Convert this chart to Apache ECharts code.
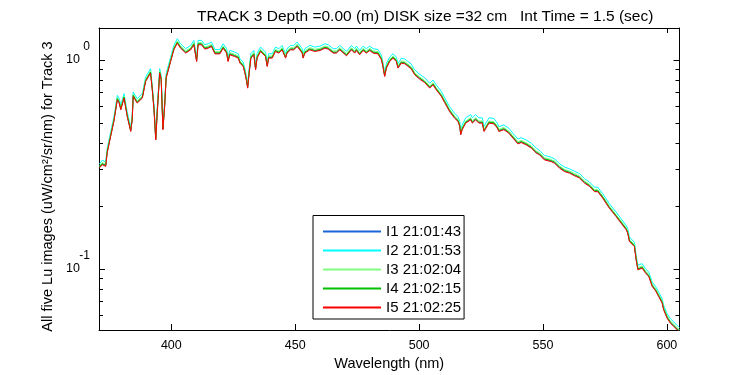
<!DOCTYPE html>
<html>
<head>
<meta charset="utf-8">
<script src="https://cdn.jsdelivr.net/npm/echarts@6/dist/echarts.min.js"></script>
<style>
  html, body { margin: 0; padding: 0; background: #fff; }
  #chart { width: 750px; height: 375px; }
</style>
</head>
<body>
<div id="chart"></div>
<script>
// wavelengths (nm) shared by the five Lu images
const wavelengths = [
  371.0,372.1,373.5,374.1,375.5,376.8,378.2,378.9,379.6,380.9,
  382.2,383.6,384.2,384.6,386.2,388.3,389.6,391.6,392.3,393.0,
  393.7,394.3,395.3,395.9,396.6,397.3,397.9,399.7,401.0,402.4,
  403.7,405.8,407.8,409.1,410.2,410.8,412.2,413.5,414.9,416.2,
  417.6,419.6,420.9,422.3,422.9,423.6,425.6,427.0,427.7,429.0,
  429.7,430.4,430.8,431.4,432.1,433.3,434.0,434.6,436.0,438.0,
  438.7,439.3,440.7,442.0,443.4,444.7,446.1,446.7,448.1,449.4,
  450.8,452.8,453.2,453.9,455.9,457.9,460.0,462.0,463.3,465.3,
  466.6,468.0,470.7,472.7,474.0,474.7,476.0,477.4,478.7,480.1,
  481.4,483.4,484.8,485.4,486.1,486.8,488.1,489.5,490.8,491.5,
  492.8,494.2,495.5,496.9,498.2,498.9,500.2,502.2,502.9,504.3,
  505.6,506.9,509.0,510.3,512.3,514.3,515.7,516.4,516.8,517.4,
  518.8,520.8,521.5,522.8,524.1,525.5,526.2,526.8,528.2,530.2,
  531.6,532.2,534.2,536.2,537.9,539.9,541.2,543.2,545.3,547.3,
  548.6,550.6,553.3,554.7,556.7,557.4,558.7,560.7,562.7,564.7,
  566.8,568.8,570.8,572.1,574.1,576.8,579.5,581.5,583.6,584.2,
  584.9,586.9,587.6,588.3,589.0,590.0,591.4,592.7,594.1,595.4,
  596.7,598.1,598.7,600.1,601.4,602.8,604.2,605.1
];

const luI1 = [
  0.306,0.317,0.311,0.361,0.433,0.510,0.648,0.627,0.580,0.660,
  0.539,0.457,0.519,0.672,0.625,0.660,0.792,0.869,0.723,0.580,
  0.416,0.561,0.869,0.807,0.466,0.602,0.822,0.987,1.123,1.209,
  1.144,1.083,1.123,1.187,0.987,1.187,1.187,1.132,1.144,1.165,
  1.074,1.074,1.144,1.083,0.987,1.063,1.043,1.025,0.970,0.935,
  0.869,0.792,0.736,0.869,1.025,1.063,0.901,1.025,1.103,1.043,
  0.935,1.025,1.025,1.103,1.083,1.123,1.025,1.083,1.123,1.123,
  1.165,1.083,1.025,1.083,1.123,1.103,1.115,1.144,1.132,1.083,
  1.083,1.123,1.051,1.123,1.083,1.115,1.063,1.115,1.083,1.115,
  1.083,1.074,1.006,0.935,0.837,0.918,0.987,1.025,0.987,0.918,
  0.970,0.963,0.937,0.908,0.853,0.869,0.814,0.784,0.792,0.736,
  0.764,0.723,0.672,0.629,0.569,0.529,0.510,0.483,0.441,0.466,
  0.501,0.519,0.501,0.519,0.501,0.501,0.457,0.466,0.501,0.497,
  0.474,0.457,0.466,0.449,0.425,0.398,0.404,0.394,0.380,0.360,
  0.353,0.334,0.328,0.322,0.305,0.309,0.294,0.289,0.281,0.274,
  0.259,0.249,0.235,0.235,0.219,0.196,0.179,0.1665,0.1546,0.1491,
  0.1359,0.1286,0.1111,0.0995,0.0977,0.1014,0.0960,0.0925,0.0828,0.0792,
  0.0741,0.0689,0.0641,0.0584,0.0553,0.0533,0.0513,0.0503
];

const luI2 = [
  0.318,0.331,0.325,0.377,0.452,0.532,0.676,0.655,0.606,0.689,
  0.563,0.477,0.542,0.701,0.652,0.690,0.826,0.907,0.755,0.606,
  0.433,0.586,0.907,0.842,0.486,0.628,0.858,1.030,1.172,1.262,
  1.194,1.131,1.172,1.239,1.030,1.239,1.239,1.181,1.194,1.216,
  1.121,1.121,1.194,1.131,1.030,1.110,1.089,1.070,1.012,0.975,
  0.907,0.826,0.769,0.907,1.070,1.110,0.941,1.070,1.151,1.089,
  0.975,1.070,1.070,1.151,1.131,1.172,1.070,1.131,1.172,1.172,
  1.216,1.131,1.070,1.131,1.172,1.151,1.163,1.194,1.181,1.131,
  1.131,1.172,1.097,1.172,1.131,1.163,1.110,1.163,1.131,1.163,
  1.131,1.121,1.050,0.975,0.874,0.959,1.030,1.070,1.030,0.959,
  1.017,1.010,0.982,0.953,0.895,0.912,0.853,0.822,0.830,0.772,
  0.801,0.759,0.705,0.659,0.597,0.555,0.535,0.506,0.462,0.488,
  0.528,0.547,0.528,0.547,0.528,0.528,0.481,0.491,0.528,0.524,
  0.497,0.479,0.488,0.471,0.445,0.418,0.424,0.414,0.399,0.378,
  0.369,0.349,0.342,0.336,0.318,0.322,0.307,0.301,0.293,0.286,
  0.270,0.260,0.246,0.246,0.229,0.205,0.187,0.174,0.161,0.156,
  0.142,0.134,0.116,0.104,0.102,0.106,0.100,0.0965,0.0864,0.0826,
  0.0774,0.0719,0.0669,0.0610,0.0578,0.0557,0.0536,0.0525
];

const luI3 = [
  0.312,0.323,0.317,0.368,0.441,0.520,0.660,0.639,0.591,0.672,
  0.549,0.465,0.529,0.685,0.637,0.672,0.807,0.886,0.737,0.591,
  0.424,0.572,0.886,0.822,0.475,0.613,0.837,1.006,1.144,1.232,
  1.165,1.104,1.144,1.210,1.006,1.210,1.210,1.153,1.165,1.187,
  1.095,1.095,1.165,1.104,1.006,1.083,1.063,1.044,0.988,0.952,
  0.886,0.807,0.750,0.886,1.044,1.083,0.918,1.044,1.123,1.063,
  0.952,1.044,1.044,1.123,1.104,1.144,1.044,1.104,1.144,1.144,
  1.187,1.104,1.044,1.104,1.144,1.123,1.136,1.165,1.153,1.104,
  1.104,1.144,1.071,1.144,1.104,1.136,1.083,1.136,1.104,1.136,
  1.104,1.095,1.025,0.952,0.853,0.936,1.006,1.044,1.006,0.936,
  0.988,0.981,0.954,0.926,0.869,0.886,0.829,0.798,0.807,0.750,
  0.778,0.737,0.685,0.641,0.580,0.539,0.520,0.492,0.449,0.475,
  0.510,0.529,0.510,0.529,0.510,0.510,0.465,0.475,0.510,0.506,
  0.483,0.465,0.475,0.457,0.433,0.406,0.412,0.402,0.387,0.367,
  0.360,0.340,0.334,0.328,0.311,0.315,0.299,0.294,0.286,0.279,
  0.263,0.254,0.240,0.240,0.223,0.200,0.182,0.1696,0.1575,0.1519,
  0.1385,0.1310,0.1132,0.1014,0.0995,0.1033,0.0978,0.0942,0.0844,0.0807,
  0.0755,0.0702,0.0653,0.0596,0.0564,0.0543,0.0523,0.0513
];

const luI4 = [
  0.308,0.319,0.313,0.363,0.435,0.513,0.652,0.630,0.584,0.664,
  0.542,0.459,0.522,0.676,0.628,0.664,0.796,0.874,0.728,0.584,
  0.419,0.565,0.874,0.812,0.469,0.605,0.827,0.993,1.129,1.216,
  1.151,1.090,1.129,1.194,0.993,1.194,1.194,1.139,1.151,1.172,
  1.081,1.081,1.151,1.090,0.993,1.070,1.049,1.031,0.976,0.940,
  0.874,0.796,0.741,0.874,1.031,1.070,0.907,1.031,1.109,1.049,
  0.940,1.031,1.031,1.109,1.090,1.129,1.031,1.090,1.129,1.129,
  1.172,1.090,1.031,1.090,1.129,1.109,1.121,1.151,1.139,1.090,
  1.090,1.129,1.058,1.129,1.090,1.121,1.070,1.121,1.090,1.121,
  1.090,1.081,1.012,0.940,0.842,0.924,0.993,1.031,0.993,0.924,
  0.976,0.968,0.942,0.914,0.858,0.874,0.819,0.788,0.796,0.741,
  0.768,0.728,0.676,0.633,0.573,0.532,0.513,0.486,0.443,0.469,
  0.504,0.522,0.504,0.522,0.504,0.504,0.459,0.469,0.504,0.500,
  0.477,0.459,0.469,0.451,0.427,0.401,0.407,0.397,0.383,0.362,
  0.355,0.336,0.330,0.324,0.307,0.311,0.296,0.290,0.282,0.275,
  0.260,0.251,0.237,0.237,0.221,0.197,0.180,0.1675,0.1555,0.1500,
  0.1367,0.1293,0.1117,0.1001,0.0983,0.1020,0.0965,0.0930,0.0833,0.0796,
  0.0746,0.0693,0.0645,0.0588,0.0557,0.0536,0.0516,0.0506
];

const luI5 = [
  0.304,0.315,0.309,0.359,0.430,0.507,0.644,0.623,0.577,0.656,
  0.536,0.454,0.516,0.668,0.621,0.656,0.787,0.864,0.719,0.577,
  0.414,0.558,0.864,0.802,0.463,0.598,0.817,0.981,1.116,1.202,
  1.137,1.077,1.116,1.180,0.981,1.180,1.180,1.125,1.137,1.158,
  1.068,1.068,1.137,1.077,0.981,1.057,1.037,1.019,0.964,0.929,
  0.864,0.787,0.732,0.864,1.019,1.057,0.896,1.019,1.096,1.037,
  0.929,1.019,1.019,1.096,1.077,1.116,1.019,1.077,1.116,1.116,
  1.158,1.077,1.019,1.077,1.116,1.096,1.108,1.137,1.125,1.077,
  1.077,1.116,1.045,1.116,1.077,1.108,1.057,1.108,1.077,1.108,
  1.077,1.068,1.000,0.929,0.832,0.913,0.981,1.019,0.981,0.913,
  0.964,0.957,0.931,0.903,0.848,0.864,0.809,0.779,0.787,0.732,
  0.759,0.719,0.668,0.625,0.566,0.526,0.507,0.480,0.438,0.463,
  0.498,0.516,0.498,0.516,0.498,0.498,0.454,0.463,0.498,0.494,
  0.471,0.454,0.463,0.446,0.422,0.396,0.402,0.392,0.378,0.358,
  0.351,0.332,0.326,0.320,0.303,0.307,0.292,0.287,0.279,0.272,
  0.257,0.248,0.234,0.234,0.218,0.195,0.178,0.1655,0.1537,0.1482,
  0.1351,0.1278,0.1104,0.0989,0.0971,0.1008,0.0954,0.0919,0.0823,0.0787,
  0.0737,0.0685,0.0637,0.0581,0.0550,0.0530,0.0510,0.0500
];

const seriesNames = ["I1 21:01:43", "I2 21:01:53", "I3 21:02:04", "I4 21:02:15", "I5 21:02:25"];
const seriesData = [luI1, luI2, luI3, luI4, luI5];
const colors = ["#1a66d9", "#00ffff", "#80ff80", "#00c000", "#ff0000"];

// log-axis minor tick positions (2..9 of each decade)
const minorTicks = [0.06, 0.07, 0.08, 0.09, 0.2, 0.3, 0.4, 0.5, 0.6, 0.7, 0.8, 0.9];

const X_MIN = 370.8, X_MAX = 605.1;
const Y_MIN = 0.051, Y_MAX = 1.42;
const FONT = "'Liberation Sans', Arial, sans-serif";

var myChart = echarts.init(document.getElementById("chart"));

function expLabel(value) {
  var l = Math.log10(value);
  var e = Math.round(l);
  if (Math.abs(l - e) > 1e-6) return "";
  return "{e|" + e + "}\n{b|10}\n{e| }";
}

var option = {
  animation: false,
  backgroundColor: "#fff",
  color: colors,
  title: {
    text: "TRACK 3 Depth =0.00 (m) DISK size =32 cm   Int Time = 1.5 (sec)",
    left: 192,
    top: 4,
    textStyle: { fontFamily: FONT, fontSize: 15.5, fontWeight: "normal", color: "#000" }
  },
  grid: {
    left: 99,
    top: 28,
    width: 580.5,
    height: 302,
    containLabel: false,
    outerBoundsMode: "none"
  },
  legend: {
    // legend swatches are drawn as flat lines in each series colour
    data: seriesNames.map(function (n, k) {
      return {
        name: n,
        icon: "rect",
        itemStyle: { color: colors[k], borderWidth: 0, opacity: 1 }
      };
    }),
    orient: "vertical",
    left: 313,
    top: 215.5,
    padding: [8.5, 3, 4, 10],
    itemGap: 4,
    itemWidth: 58,
    itemHeight: 2,
    backgroundColor: "#fff",
    borderColor: "#000",
    borderWidth: 1,
    borderRadius: 0,
    textStyle: { fontFamily: FONT, fontSize: 15, color: "#000", lineHeight: 15 }
  },
  xAxis: [
    {
      type: "value",
      min: X_MIN,
      max: X_MAX,
      name: "Wavelength (nm)",
      nameLocation: "middle",
      nameGap: 25,
      nameTextStyle: { fontFamily: FONT, fontSize: 14.5, color: "#000", verticalAlign: "top" },
      axisLine: { show: true, lineStyle: { color: "#000", width: 1 } },
      axisTick: { show: true, inside: true, length: 6, lineStyle: { color: "#000" } },
      axisLabel: {
        fontFamily: FONT, fontSize: 12.5, color: "#000", margin: 9,
        showMinLabel: false, showMaxLabel: false
      },
      splitLine: { show: false }
    },
    {
      type: "value",
      position: "top",
      min: X_MIN,
      max: X_MAX,
      axisLine: { show: true, lineStyle: { color: "#000", width: 1 } },
      axisTick: { show: true, inside: true, length: 5, lineStyle: { color: "#000" } },
      axisLabel: { show: false },
      splitLine: { show: false }
    }
  ],
  yAxis: [
    {
      type: "log",
      logBase: 10,
      min: Y_MIN,
      max: Y_MAX,
      name: "All five Lu images (uW/cm\u00b2/sr/nm) for Track 3",
      nameLocation: "middle",
      nameGap: 38.5,
      nameTextStyle: { fontFamily: FONT, fontSize: 14.5, color: "#000", padding: [0, 15, 0, 0] },
      axisLine: { show: true, lineStyle: { color: "#000", width: 1 } },
      axisTick: { show: true, inside: true, length: 6, lineStyle: { color: "#000" } },
      axisLabel: {
        fontFamily: FONT,
        color: "#000",
        margin: 9,
        showMinLabel: false,
        showMaxLabel: false,
        formatter: expLabel,
        rich: {
          e: { fontFamily: FONT, fontSize: 12, lineHeight: 12, color: "#000" },
          b: { fontFamily: FONT, fontSize: 12.5, lineHeight: 14, color: "#000", padding: [0, 10, 0, 0] }
        }
      },
      splitLine: { show: false }
    },
    {
      type: "log",
      logBase: 10,
      position: "right",
      min: Y_MIN,
      max: Y_MAX,
      axisLine: { show: true, lineStyle: { color: "#000", width: 1 } },
      axisTick: { show: true, inside: true, length: 6, lineStyle: { color: "#000" } },
      axisLabel: { show: false },
      splitLine: { show: false }
    }
  ],
  series: seriesData.map(function (arr, k) {
    return {
      name: seriesNames[k],
      type: "line",
      xAxisIndex: 0,
      yAxisIndex: 0,
      symbol: "none",
      smooth: false,
      clip: true,
      itemStyle: { color: colors[k] },
      lineStyle: { color: colors[k], width: 1 },
      data: wavelengths.map(function (w, i) { return [w, arr[i]]; }),
      z: 2 + k
    };
  }).concat([
    {
      type: "custom",
      name: "minor ticks",
      xAxisIndex: 0,
      yAxisIndex: 0,
      silent: true,
      clip: false,
      data: minorTicks.map(function (v) { return [X_MIN, v]; }),
      renderItem: function (params, api) {
        var pt = api.coord([api.value(0), api.value(1)]);
        var cs = params.coordSys;
        var y = Math.round(pt[1]) + 0.5;
        return {
          type: "group",
          children: [
            { type: "line", shape: { x1: cs.x, y1: y, x2: cs.x + 4, y2: y }, style: { stroke: "#000", lineWidth: 1 } },
            { type: "line", shape: { x1: cs.x + cs.width - 4, y1: y, x2: cs.x + cs.width, y2: y }, style: { stroke: "#000", lineWidth: 1 } }
          ]
        };
      },
      z: 10
    }
  ])
};

myChart.setOption(option);
</script>
</body>
</html>
